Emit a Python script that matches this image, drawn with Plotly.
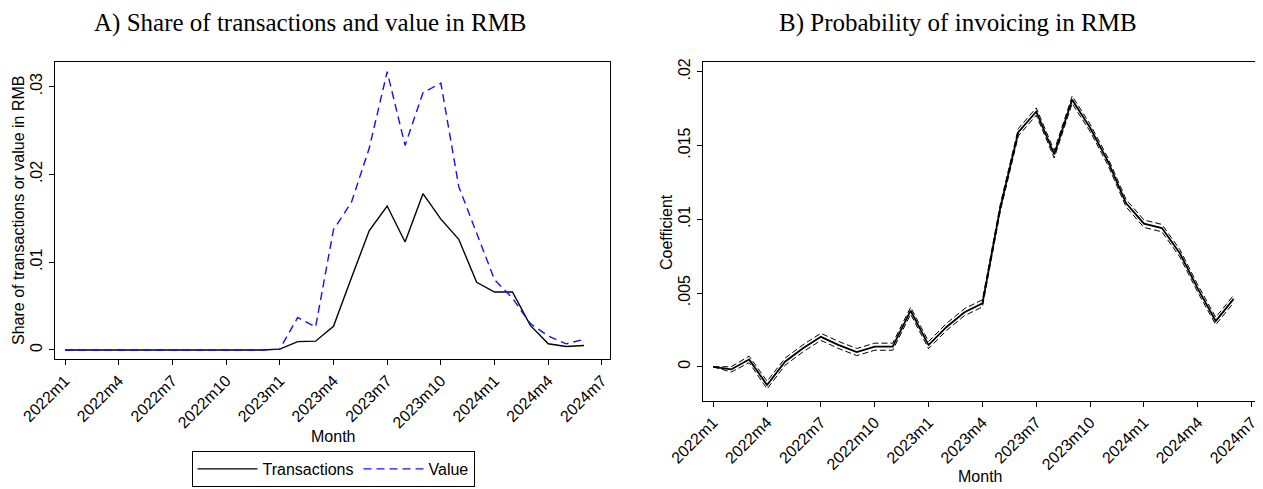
import plotly.graph_objects as go

# ---------------- data ----------------
months = ["2022m1", "2022m2", "2022m3", "2022m4", "2022m5", "2022m6", "2022m7", "2022m8",
          "2022m9", "2022m10", "2022m11", "2022m12", "2023m1", "2023m2", "2023m3", "2023m4",
          "2023m5", "2023m6", "2023m7", "2023m8", "2023m9", "2023m10", "2023m11", "2023m12",
          "2024m1", "2024m2", "2024m3", "2024m4", "2024m5", "2024m6"]
tick_labels = ["2022m1", "2022m4", "2022m7", "2022m10", "2023m1", "2023m4", "2023m7",
               "2023m10", "2024m1", "2024m4", "2024m7"]

share_transactions = [0, 0, 0, 0, 0, 0, 0, 0, 0, 0, 0, 0,
                      0.0001, 0.00095, 0.001, 0.0027, 0.0082, 0.0136, 0.0164, 0.0123,
                      0.0178, 0.0149, 0.0126, 0.0077, 0.0066, 0.0066, 0.0028, 0.0007,
                      0.0004, 0.0005]
share_value = [0, 0, 0, 0, 0, 0, 0, 0, 0, 0, 0, 0,
               0.0001, 0.0037, 0.0026, 0.0137, 0.0168, 0.0230, 0.0317, 0.0233,
               0.0293, 0.0304, 0.0186, 0.0133, 0.0080, 0.0059, 0.0030, 0.0016,
               0.0007, 0.0012]

coef = [0.0, -0.00018, 0.0005, -0.00124, 0.00034, 0.00125, 0.00203, 0.00147, 0.0010,
        0.00136, 0.00136, 0.0038, 0.00147, 0.0027, 0.0037, 0.0043, 0.0108, 0.0159,
        0.0173, 0.0144, 0.0181, 0.0162, 0.0139, 0.0111, 0.0097, 0.0094, 0.0077,
        0.0053, 0.0031, 0.0046]
coef_lower = [0.0, -0.00036, 0.00028, -0.0015, 0.00010, 0.00101, 0.00179, 0.00123, 0.00076,
              0.00112, 0.00112, 0.00356, 0.00123, 0.00246, 0.00346, 0.00406, 0.01056, 0.01565,
              0.01705, 0.01415, 0.01785, 0.01595, 0.01365, 0.01085, 0.00945, 0.00915, 0.00745,
              0.00505, 0.00285, 0.00435]
coef_upper = [0.0, 0.0, 0.00072, -0.00098, 0.00058, 0.00149, 0.00227, 0.00171, 0.00124,
              0.0016, 0.0016, 0.00404, 0.00171, 0.00294, 0.00394, 0.00454, 0.01104, 0.01615,
              0.01755, 0.01465, 0.01835, 0.01645, 0.01415, 0.01135, 0.00995, 0.00965, 0.00795,
              0.00555, 0.00335, 0.00485]

x = list(range(len(months)))
tick_vals = [months.index(t) if t in months else len(months) for t in tick_labels]

# page has an 8px body margin; the figure is sized so it fits the 1263x489 window
OFF = 8
W, H = 1263 - OFF, 489 - OFF


def px(v):
    return (v - OFF) / W


def py(v):
    return 1 - (v - OFF) / H


SANS = "Liberation Sans, Arial, sans-serif"
SERIF = "Liberation Serif, Times New Roman, serif"

fig = go.Figure()

# Panel A
fig.add_trace(go.Scatter(x=x, y=share_transactions, mode="lines", name="Transactions",
                         line=dict(color="black", width=1.4), xaxis="x", yaxis="y"))
fig.add_trace(go.Scatter(x=x, y=share_value, mode="lines", name="Value",
                         line=dict(color="#1010ff", width=1.4, dash="8px,5px"),
                         xaxis="x", yaxis="y"))

# Panel B
fig.add_trace(go.Scatter(x=x, y=coef_lower, mode="lines", showlegend=False,
                         line=dict(color="black", width=1, dash="6px,3px"),
                         xaxis="x2", yaxis="y2"))
fig.add_trace(go.Scatter(x=x, y=coef_upper, mode="lines", showlegend=False,
                         line=dict(color="black", width=1, dash="6px,3px"),
                         xaxis="x2", yaxis="y2"))
fig.add_trace(go.Scatter(x=x, y=coef, mode="lines", showlegend=False,
                         line=dict(color="black", width=1.8),
                         xaxis="x2", yaxis="y2"))

axis_common = dict(showgrid=False, zeroline=False, showline=True, linecolor="black",
                   linewidth=1.3, mirror=True, ticks="outside", ticklen=5,
                   tickcolor="black", tickwidth=1, automargin=False,
                   tickfont=dict(family=SANS, size=16, color="black"))

fig.update_layout(
    template="none",
    width=W, height=H,
    margin=dict(l=0, r=0, t=0, b=0, autoexpand=False),
    paper_bgcolor="white", plot_bgcolor="white",
    xaxis=dict(domain=[px(55), px(610)], range=[-0.56, 30.45], tickvals=tick_vals,
               ticktext=tick_labels, tickangle=-45, anchor="y", **axis_common),
    yaxis=dict(domain=[py(359), py(62)], range=[-0.00103, 0.0328],
               tickvals=[0, 0.01, 0.02, 0.03], ticktext=["0", ".01", ".02", ".03"],
               tickangle=-90, anchor="x", **axis_common),
    xaxis2=dict(domain=[px(703), px(1257)], range=[-0.57, 30.3], tickvals=tick_vals,
                ticktext=tick_labels, tickangle=-45, anchor="y2", **axis_common),
    yaxis2=dict(domain=[py(400.7), py(62)], range=[-0.0023, 0.02066],
                tickvals=[0, 0.005, 0.01, 0.015, 0.02],
                ticktext=["0", ".005", ".01", ".015", ".02"],
                tickangle=-90, anchor="x2", **axis_common),
    showlegend=True,
    legend=dict(orientation="h", x=px(333), xanchor="center", y=py(469), yanchor="middle",
                bordercolor="black", borderwidth=1, bgcolor="white",
                font=dict(family=SANS, size=16, color="black"),
                itemwidth=60, tracegroupgap=0),
)

annotations = [
    dict(text="A) Share of transactions and value in RMB", x=px(310), y=1.0,
         yanchor="top", borderpad=0, font=dict(family=SERIF, size=25, color="black")),
    dict(text="B) Probability of invoicing in RMB", x=px(958), y=1.0,
         yanchor="top", borderpad=0, font=dict(family=SERIF, size=25, color="black")),
    dict(text="Month", x=px(333), y=py(436),
         font=dict(family=SANS, size=16, color="black")),
    dict(text="Month", x=px(980), y=py(476),
         font=dict(family=SANS, size=16, color="black")),
    dict(text="Share of transactions or value in RMB", x=px(18), y=py(211),
         textangle=-90, font=dict(family=SANS, size=16, color="black")),
    dict(text="Coefficient", x=px(666), y=py(232),
         textangle=-90, font=dict(family=SANS, size=16, color="black")),
]
for a in annotations:
    a.setdefault("yanchor", "middle")
    a.update(xref="paper", yref="paper", showarrow=False, xanchor="center")
fig.update_layout(annotations=annotations)

fig.write_html("out.html")
